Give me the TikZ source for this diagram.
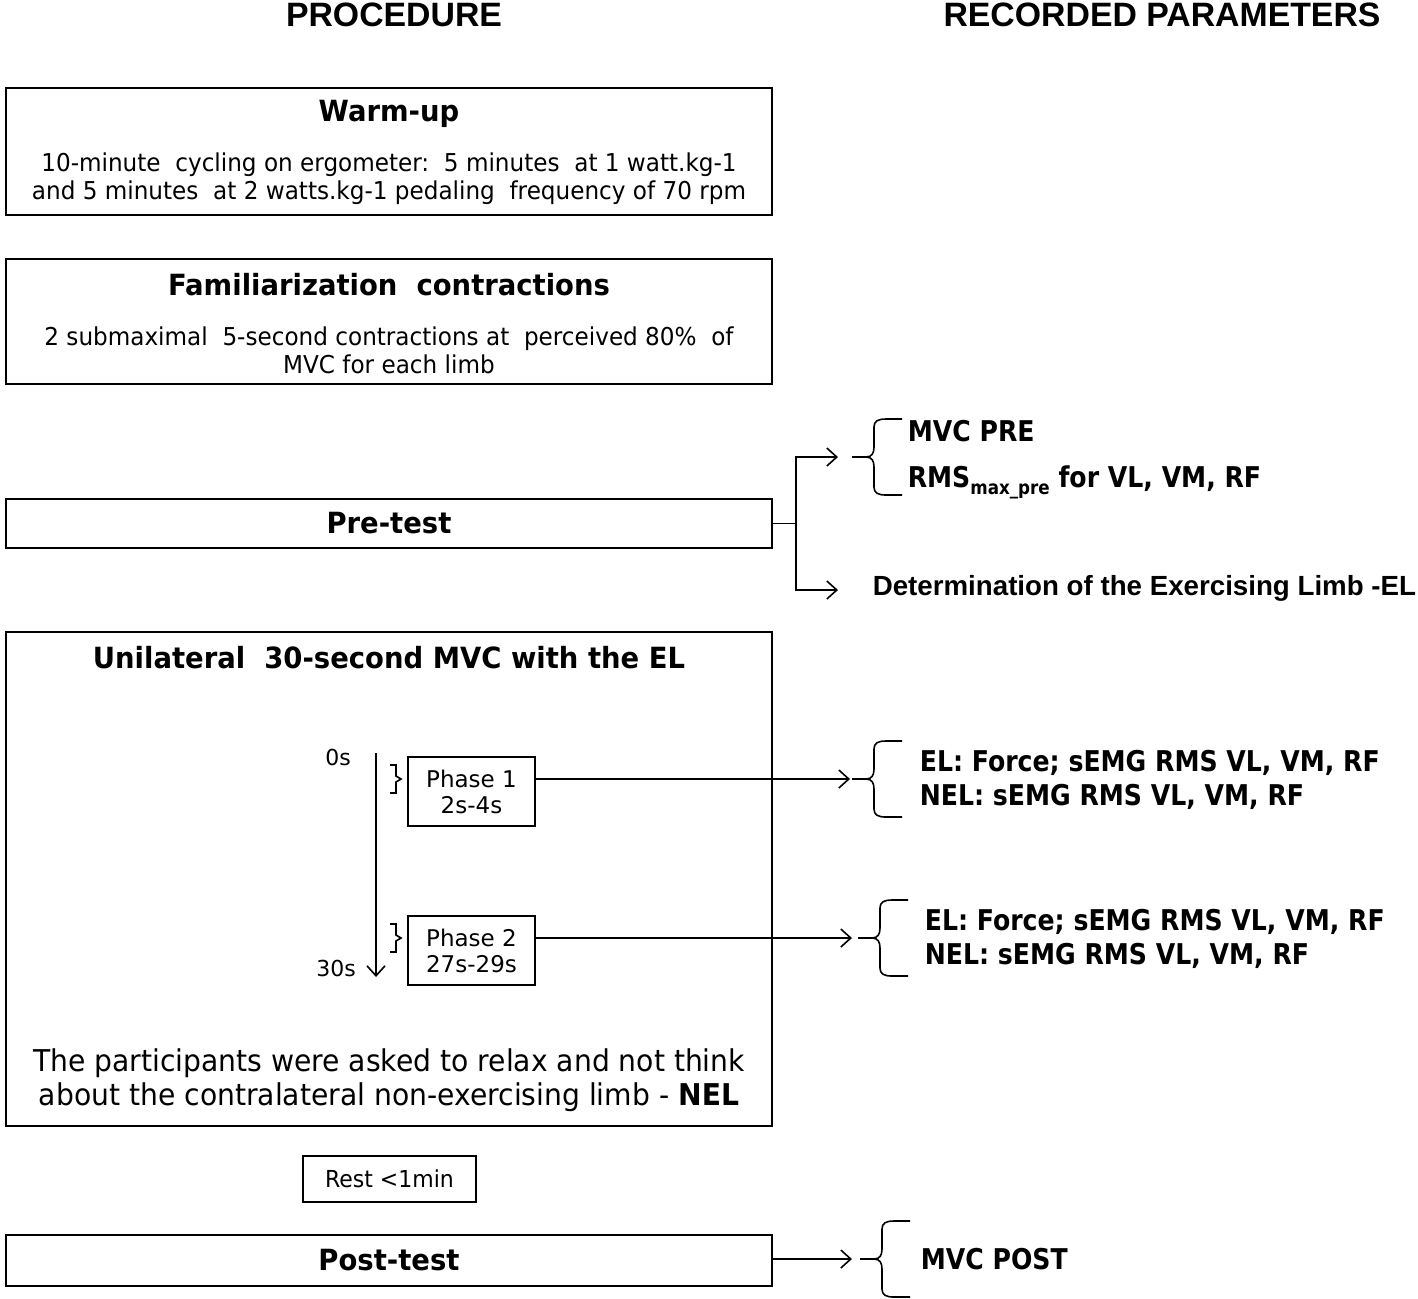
\documentclass[tikz,border=0pt]{standalone}
\usepackage{fontspec}
\setmainfont{DejaVu Sans}
\newfontfamily\boxfont[FakeStretch=0.94]{DejaVu Sans}
\newfontfamily\headfont{Liberation Sans}
\newfontfamily\paramfont[FakeStretch=0.88]{DejaVu Sans}
\newfontfamily\arialfont{Liberation Sans}
\usetikzlibrary{arrows.meta}

\begin{document}
\begin{tikzpicture}[x=0.5pt, y=-0.5pt, >={Straight Barb[length=5pt,width=9pt]},
                line width=0.8pt,
                procbox/.style={draw, line width=0.9pt, minimum width=383pt, inner sep=0pt},
                smallbox/.style={draw, line width=0.9pt, inner sep=0pt, align=center},
                title/.style={font=\boxfont\bfseries\fontsize{14.6pt}{17pt}\selectfont},
                body/.style={font=\boxfont\fontsize{12.3pt}{14pt}\selectfont, align=center},
                param/.style={anchor=west, inner sep=0pt, font=\paramfont\bfseries\fontsize{14.3pt}{17pt}\selectfont, align=left},
                head/.style={font=\headfont\bfseries\fontsize{16.9pt}{18pt}\selectfont},
                pics/curly/.style={code={
                    \draw (0,0) -- (14,0) .. controls (20,0) and (22,-4) .. (22,-10) -- (22,-30)
                          .. controls (22,-36) and (26,-38) .. (34,-38) -- (50,-38);
                    \draw (14,0) .. controls (20,0) and (22,4) .. (22,10) -- (22,30)
                          .. controls (22,36) and (26,38) .. (34,38) -- (50,38);
                }}]
                \useasboundingbox (0,0) rectangle (1418,1298);

                % Headers
                \node[head] (hproc) at (394,15) {PROCEDURE};
                \node[head] (hrec) at (1162,15) {RECORDED PARAMETERS};

                % Procedure boxes
                \node[procbox, minimum height=63.5pt] (warm) at (389,151.5) {};
                \node[title] (warmt) at (389,114) {Warm-up};
                \node[body] (warmb) at (389,179) {10-minute\ \ cycling on ergometer:\ \ 5 minutes\ \ at 1 watt.kg-1\\and 5 minutes\ \ at 2 watts.kg-1 pedaling\ \ frequency of 70 rpm};

                \node[procbox, minimum height=62.5pt] (fam) at (389,321.5) {};
                \node[title] (famt) at (389,285) {Familiarization\ \ contractions};
                \node[body] (famb) at (389,350) {2 submaximal\ \ 5-second contractions at\ \ perceived 80\%\ \ of\\MVC for each limb};

                \node[procbox, minimum height=24.5pt, title] (pre) at (389,523.5) {Pre-test};

                \node[procbox, minimum height=247pt] (uni) at (389,879) {};
                \node[title] (unit) at (389,658) {Unilateral\ \ 30-second MVC with the EL};
                \node[body, font=\boxfont\fontsize{15pt}{17pt}\selectfont] (relax) at (389,1080)
                    {The participants were asked to relax and not think\\about the contralateral non-exercising limb - \textbf{NEL}};

                \node[smallbox, minimum width=86.5pt, minimum height=23pt, font=\boxfont\fontsize{11.7pt}{13pt}\selectfont] (rest) at (389.5,1179) {Rest <1min};
                \node[procbox, minimum height=25.5pt, title] (post) at (389,1260.5) {Post-test};

                % Time axis and phases
                \coordinate (t0) at (376,753);
                \coordinate (t30) at (376,977);
                \draw[->] (t0) -- (t30);
                \node[font=\fontsize{11pt}{12pt}\selectfont] (l0) at (338,757) {0s};
                \node[font=\fontsize{11pt}{12pt}\selectfont] (l30) at (336,968) {30s};
                \node[smallbox, minimum width=63.5pt, minimum height=34.5pt, font=\fontsize{11.5pt}{13pt}\selectfont] (ph1) at (471.5,791.5) {Phase 1\\2s-4s};
                \node[smallbox, minimum width=63.5pt, minimum height=34.5pt, font=\fontsize{11.5pt}{13pt}\selectfont] (ph2) at (471.5,950.5) {Phase 2\\27s-29s};
                \draw (390,765) -| (396,776) -- (401,779) -- (396,782) |- (390,793);
                \draw (390,924) -| (396,935) -- (401,938) -- (396,941) |- (390,952);

                % Pre-test branches
                \coordinate (fork) at (796,523.5);
                \coordinate (b0) at (852,457);
                \draw (pre.east) -- (fork);
                \draw[->] (fork) |- (838,457);
                \draw[->] (fork) |- (838,590);
                \pic at (b0) {curly};
                \node[param] (mvcpre) at (907,431) {MVC PRE};
                \node[param] (rmspre) at (907,482) {RMS{\fontsize{9.5pt}{10pt}\selectfont\raisebox{-3.5pt}{max\_pre}} for VL, VM, RF};
                \node[anchor=west, inner sep=0pt, font=\arialfont\bfseries\fontsize{13.85pt}{15pt}\selectfont] (detel) at (872,588) {Determination of the Exercising Limb -EL};

                % Phase outputs
                \coordinate (b1) at (852,779);
                \coordinate (b2) at (858,938);
                \draw[->] (ph1.east |- b1) -- ([xshift=-1pt]b1);
                \draw[->] (ph2.east |- b2) -- ([xshift=-3pt]b2);
                \pic at (b1) {curly};
                \pic at (b2) {curly};
                \node[param] (ph1p) at (919,780) {EL: Force; sEMG RMS VL, VM, RF\\NEL: sEMG RMS VL, VM, RF};
                \node[param] (ph2p) at (924,939) {EL: Force; sEMG RMS VL, VM, RF\\NEL: sEMG RMS VL, VM, RF};

                % Post-test
                \coordinate (b3) at (860,1259);
                \draw[->] (post.east |- b3) -- ([xshift=-4pt]b3);
                \pic at (b3) {curly};
                \node[param] (mvcpost) at (920,1259) {MVC POST};
            \end{tikzpicture}
\end{document}
